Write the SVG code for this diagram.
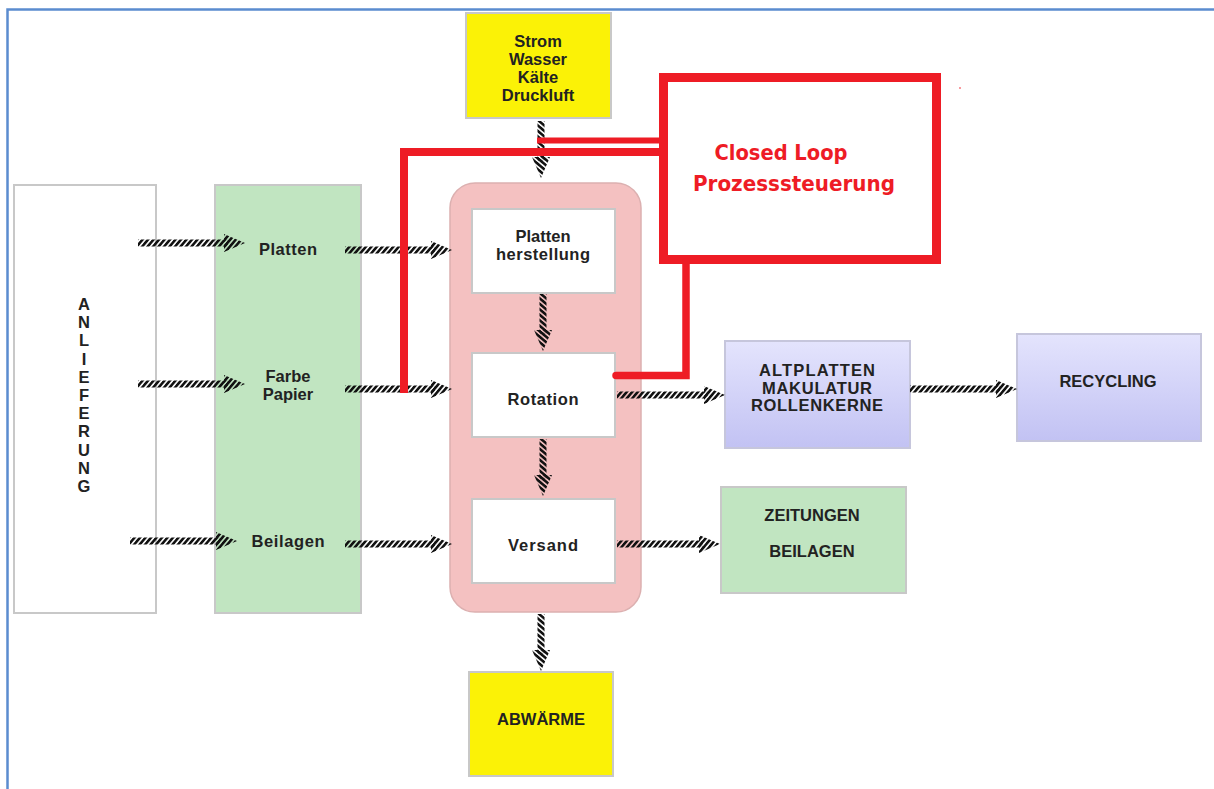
<svg xmlns="http://www.w3.org/2000/svg" width="1214" height="789" viewBox="0 0 1214 789">
<style>
.t{font-family:"Liberation Sans",Arial,sans-serif;font-weight:bold;font-size:16.5px;fill:#222;text-anchor:middle}
.r{font-family:"DejaVu Sans Condensed","Liberation Sans",sans-serif;font-weight:bold;font-size:22px;fill:#ee1c25;text-anchor:middle}
.box{stroke:#c8c8c8;stroke-width:2}
.red{stroke:#ee1c25;fill:none}
.ar{fill:url(#hatch)}
</style>
<defs>
<pattern id="hatch" patternUnits="userSpaceOnUse" width="4.2" height="4.2" patternTransform="rotate(40)">
<rect x="0" y="0" width="2.6" height="4.2" fill="#111"/>
</pattern>
<linearGradient id="purp" x1="0" y1="0" x2="0" y2="1">
<stop offset="0" stop-color="#e4e4fd"/>
<stop offset="1" stop-color="#c2c2f3"/>
</linearGradient>
</defs>
<rect width="1214" height="789" fill="#fff"/>
<polyline points="7.5,789 7.5,9.5 1214,9.5" fill="none" stroke="#5b8ccf" stroke-width="2.5"/>

<g id="anlieferung">
<rect x="14" y="185" width="142" height="428" fill="#fff" class="box"/>
<text class="t" font-size="16" x="84" y="310">A</text>
<text class="t" font-size="16" x="84" y="328">N</text>
<text class="t" font-size="16" x="84" y="346">L</text>
<text class="t" font-size="16" x="84" y="365">I</text>
<text class="t" font-size="16" x="84" y="383">E</text>
<text class="t" font-size="16" x="84" y="401">F</text>
<text class="t" font-size="16" x="84" y="419">E</text>
<text class="t" font-size="16" x="84" y="437">R</text>
<text class="t" font-size="16" x="84" y="456">U</text>
<text class="t" font-size="16" x="84" y="474">N</text>
<text class="t" font-size="16" x="84" y="492">G</text>
</g>

<g id="material">
<rect x="215" y="185" width="146" height="428" fill="#c1e5c1" class="box"/>
<text class="t" x="288" y="255" textLength="58">Platten</text>
<text class="t" x="288" y="382">Farbe</text>
<text class="t" x="288" y="400">Papier</text>
<text class="t" x="288" y="547" textLength="73">Beilagen</text>
</g>

<g id="produktion">
<rect x="450" y="183" width="191" height="429" rx="25" fill="#f4c1c1" stroke="#dcb0b0" stroke-width="1.5"/>
</g>
<g id="plattenherstellung">
<rect x="472" y="209" width="143" height="84" fill="#fff" class="box"/>
<text class="t" x="543" y="242">Platten</text>
<text class="t" x="543" y="260" textLength="94">herstellung</text>
</g>
<g id="rotation">
<rect x="472" y="353" width="143" height="84" fill="#fff" class="box"/>
<text class="t" x="543" y="405" textLength="71">Rotation</text>
</g>
<g id="versand">
<rect x="472" y="499" width="143" height="84" fill="#fff" class="box"/>
<text class="t" x="543" y="551" textLength="70">Versand</text>
</g>

<g id="energie">
<rect x="466" y="13" width="145" height="105" fill="#fbf206" class="box"/>
<text class="t" x="538" y="47">Strom</text>
<text class="t" x="538" y="65">Wasser</text>
<text class="t" x="538" y="83">Kälte</text>
<text class="t" x="538" y="101">Druckluft</text>
</g>

<g id="abwaerme">
<rect x="469" y="672" width="144" height="104" fill="#fbf206" class="box"/>
<text class="t" x="541" y="725">ABWÄRME</text>
</g>

<g id="altplatten">
<rect x="725" y="341" width="185" height="107" fill="url(#purp)" stroke="#c6c6dc" stroke-width="2"/>
<text class="t" x="817" y="376" textLength="116">ALTPLATTEN</text>
<text class="t" x="817" y="393.5" textLength="110">MAKULATUR</text>
<text class="t" x="817" y="411" textLength="132">ROLLENKERNE</text>
</g>

<g id="recycling">
<rect x="1017" y="334" width="184" height="107" fill="url(#purp)" stroke="#c6c6dc" stroke-width="2"/>
<text class="t" x="1108" y="387">RECYCLING</text>
</g>

<g id="zeitungen">
<rect x="721" y="487" width="185" height="106" fill="#c1e5c1" class="box"/>
<text class="t" x="812" y="521">ZEITUNGEN</text>
<text class="t" x="812" y="557">BEILAGEN</text>
</g>

<g id="closedloop">
<rect x="663.5" y="77.5" width="273" height="182" class="red" stroke-width="9"/>
<text class="r" x="781" y="160" textLength="133" lengthAdjust="spacingAndGlyphs">Closed Loop</text>
<text class="r" x="794" y="191" textLength="202" lengthAdjust="spacingAndGlyphs">Prozesssteuerung</text>
<circle cx="960" cy="88" r="0.8" fill="#ee1c25"/>
</g>

<g id="connectors">
<g transform="translate(138,243)" class="ar"><rect x="0" y="-3.5" width="90" height="7"/><polygon points="86,-9 107,0 86,9"/></g>
<g transform="translate(138,384)" class="ar"><rect x="0" y="-3.5" width="90" height="7"/><polygon points="86,-9 107,0 86,9"/></g>
<g transform="translate(130,541)" class="ar"><rect x="0" y="-3.5" width="90" height="7"/><polygon points="86,-9 107,0 86,9"/></g>
<g transform="translate(345,250)" class="ar"><rect x="0" y="-3.5" width="90" height="7"/><polygon points="86,-9 107,0 86,9"/></g>
<g transform="translate(345,389)" class="ar"><rect x="0" y="-3.5" width="90" height="7"/><polygon points="86,-9 107,0 86,9"/></g>
<g transform="translate(345,544)" class="ar"><rect x="0" y="-3.5" width="90" height="7"/><polygon points="86,-9 107,0 86,9"/></g>
<g transform="translate(617,395)" class="ar"><rect x="0" y="-3.5" width="91" height="7"/><polygon points="87,-9 108,0 87,9"/></g>
<g transform="translate(910,389)" class="ar"><rect x="0" y="-3.5" width="90" height="7"/><polygon points="86,-9 107,0 86,9"/></g>
<g transform="translate(617,544)" class="ar"><rect x="0" y="-3.5" width="86" height="7"/><polygon points="82,-9 103,0 82,9"/></g>
<g transform="translate(541,121) rotate(90)" class="ar"><rect x="0" y="-3.5" width="40" height="7"/><polygon points="36,-9 57,0 36,9"/></g>
<g transform="translate(543,294) rotate(90)" class="ar"><rect x="0" y="-3.5" width="40" height="7"/><polygon points="36,-9 57,0 36,9"/></g>
<g transform="translate(543,439) rotate(90)" class="ar"><rect x="0" y="-3.5" width="40" height="7"/><polygon points="36,-9 57,0 36,9"/></g>
<g transform="translate(541,614) rotate(90)" class="ar"><rect x="0" y="-3.5" width="40" height="7"/><polygon points="36,-9 57,0 36,9"/></g>

<polyline points="404,393 404,152 664,152" class="red" stroke-width="8"/>
<line x1="537" y1="140.5" x2="664" y2="140.5" class="red" stroke-width="6"/>
<polyline points="616,375.5 686,375.5 686,262" class="red" stroke-width="7.5" stroke-linecap="round"/>
</g>
</svg>
